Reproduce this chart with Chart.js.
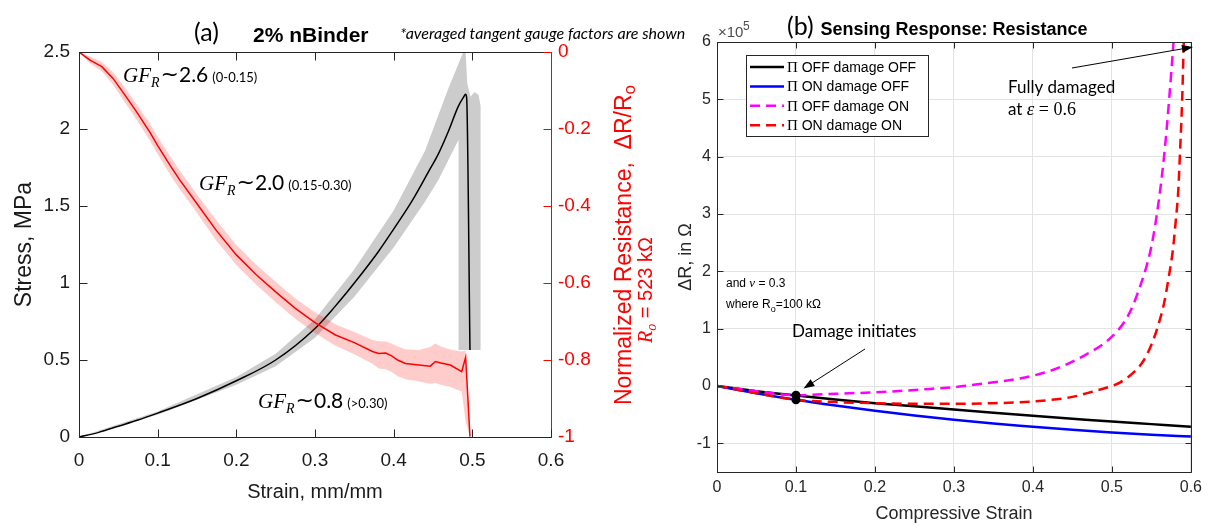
<!DOCTYPE html>
<html>
<head>
<meta charset="utf-8">
<script src="https://cdn.jsdelivr.net/npm/chart.js@4.4.1/dist/chart.umd.min.js"></script>
<style>
  html, body { margin: 0; padding: 0; background: #ffffff; }
  body { width: 1208px; height: 523px; position: relative; overflow: hidden; }
  #chartA { position: absolute; left: 0; top: 0; }
  #chartB { position: absolute; left: 660px; top: 0; }
</style>
</head>
<body>
<canvas id="chartA" width="700" height="523"></canvas>
<canvas id="chartB" width="548" height="523"></canvas>
<script>
// ---------- (a) 2% nBinder: stress and normalized resistance vs strain ----------
const aStrainTicks  = [0, 0.1, 0.2, 0.3, 0.4, 0.5, 0.6];
const aStrainLabels = ['0', '0.1', '0.2', '0.3', '0.4', '0.5', '0.6'];
const aStressTicks  = [0, 0.5, 1, 1.5, 2, 2.5];
const aStressLabels = ['0', '0.5', '1', '1.5', '2', '2.5'];
const aResTicks     = [-1, -0.8, -0.6, -0.4, -0.2, 0];
const aResLabels    = ['-1', '-0.8', '-0.6', '-0.4', '-0.2', '0'];

// mean stress curve (MPa)
const stressStrain = [0, 0.025, 0.05, 0.075, 0.1, 0.15, 0.2, 0.25, 0.3, 0.325, 0.35, 0.38, 0.4, 0.423, 0.444, 0.457, 0.47, 0.482, 0.4886, 0.4915, 0.4928, 0.497];
const stressMean   = [0, 0.03, 0.07, 0.11, 0.155, 0.25, 0.365, 0.5, 0.705, 0.845, 1.0, 1.2, 1.35, 1.53, 1.72, 1.84, 1.99, 2.145, 2.205, 2.225, 2.2, 0.565];

// scatter envelope of the stress curves: upper edge, then lower edge
const bandUpStrain = [0, 0.1, 0.2, 0.25, 0.3, 0.35, 0.4, 0.44, 0.47, 0.4885, 0.4915, 0.4935, 0.4975, 0.503, 0.508, 0.5105, 0.5105];
const bandUpStress = [0, 0.165, 0.39, 0.54, 0.765, 1.09, 1.47, 1.86, 2.27, 2.5, 2.5, 2.3, 2.21, 2.24, 2.22, 2.15, 0.565];
const bandLoStrain = [0, 0.1, 0.2, 0.25, 0.3, 0.35, 0.4, 0.44, 0.457, 0.4825, 0.482];
const bandLoStress = [0, 0.145, 0.34, 0.46, 0.645, 0.91, 1.23, 1.53, 1.67, 1.93, 0.565];

// normalized resistance change, mean and envelope
const resStrain = [0, 0.014, 0.029, 0.043, 0.056, 0.073, 0.09, 0.1, 0.115, 0.128, 0.15, 0.174, 0.2, 0.225, 0.25, 0.275, 0.3, 0.326, 0.35, 0.373, 0.381, 0.39, 0.398, 0.405, 0.415, 0.432, 0.4465, 0.453, 0.46, 0.472, 0.4865, 0.4915, 0.497];
const resMean   = [0, -0.021, -0.038, -0.068, -0.105, -0.155, -0.208, -0.243, -0.292, -0.332, -0.394, -0.462, -0.527, -0.578, -0.623, -0.666, -0.703, -0.735, -0.755, -0.778, -0.783, -0.782, -0.79, -0.80, -0.809, -0.813, -0.816, -0.804, -0.808, -0.813, -0.830, -0.793, -0.999];
const resUpper  = [0, -0.012, -0.026, -0.052, -0.086, -0.135, -0.186, -0.22, -0.268, -0.308, -0.37, -0.436, -0.501, -0.552, -0.597, -0.64, -0.676, -0.707, -0.727, -0.748, -0.751, -0.752, -0.758, -0.765, -0.772, -0.774, -0.766, -0.757, -0.765, -0.773, -0.778, -0.775, -0.985];
const resLower  = [0, -0.03, -0.05, -0.084, -0.124, -0.175, -0.23, -0.265, -0.316, -0.356, -0.418, -0.488, -0.553, -0.604, -0.65, -0.693, -0.73, -0.763, -0.785, -0.81, -0.822, -0.824, -0.832, -0.842, -0.85, -0.856, -0.862, -0.86, -0.864, -0.87, -0.882, -0.96, -1.0];

// ---------- (b) sensing response: resistance change (x10^5 ohm) ----------
const bStrainTicks  = [0, 0.1, 0.2, 0.3, 0.4, 0.5, 0.6];
const bStrainLabels = ['0', '0.1', '0.2', '0.3', '0.4', '0.5', '0.6'];
const bDeltaTicks   = [-1, 0, 1, 2, 3, 4, 5, 6];
const bDeltaLabels  = ['-1', '0', '1', '2', '3', '4', '5', '6'];

const baseStrain    = [0, 0.05, 0.1, 0.15, 0.2, 0.25, 0.3, 0.35, 0.4, 0.45, 0.5, 0.55, 0.6];
const offOffDelta   = [0, -0.09, -0.165, -0.235, -0.30, -0.355, -0.41, -0.465, -0.52, -0.57, -0.62, -0.665, -0.71];
const onOffDelta    = [0, -0.125, -0.24, -0.34, -0.43, -0.515, -0.59, -0.655, -0.71, -0.765, -0.81, -0.85, -0.88];
const offOnStrain   = [0, 0.05, 0.1, 0.15, 0.2, 0.25, 0.28, 0.3, 0.341, 0.383, 0.425, 0.466, 0.5, 0.521, 0.537, 0.549, 0.557, 0.566, 0.5725, 0.578, 0.58];
const offOnDelta    = [0, -0.09, -0.16, -0.135, -0.11, -0.07, -0.04, -0.02, 0.05, 0.13, 0.28, 0.54, 0.86, 1.24, 1.79, 2.37, 3.0, 4.0, 5.0, 6.0, 6.4];
const onOnStrain    = [0, 0.05, 0.1, 0.15, 0.2, 0.25, 0.3, 0.35, 0.4, 0.45, 0.475, 0.5, 0.51, 0.52, 0.53, 0.54, 0.55, 0.558, 0.566, 0.572, 0.577, 0.581, 0.584, 0.586, 0.589, 0.591, 0.592];
const onOnDelta     = [0, -0.125, -0.24, -0.28, -0.30, -0.31, -0.31, -0.30, -0.27, -0.19, -0.10, 0.0, 0.06, 0.15, 0.27, 0.44, 0.72, 1.03, 1.44, 1.9, 2.35, 2.9, 3.4, 4.0, 5.0, 6.0, 6.4];
const damageStrain  = [0.1, 0.1];
const damageDelta   = [-0.16, -0.24];

// ---------- fonts ----------
const SANS  = '"Liberation Sans", Arial, sans-serif';
const SERIF = '"Liberation Serif", "Times New Roman", serif';
const CAL   = 'Lato, "Open Sans", sans-serif';
const SYM   = '"DejaVu Sans", sans-serif';

const pts = (xs, ys) => xs.map((x, i) => ({ x: x, y: ys[i] }));

// draws a row of differently styled pieces of text; items: [text, font, dy, color]
function textRun(ctx, items, x, y, align) {
  let w = 0;
  for (const it of items) { ctx.font = it[1]; w += ctx.measureText(it[0]).width; }
  let cx = align === 'center' ? x - w / 2 : x;
  ctx.textAlign = 'left';
  ctx.textBaseline = 'alphabetic';
  for (const it of items) {
    ctx.font = it[1];
    if (it[3]) ctx.fillStyle = it[3];
    ctx.fillText(it[0], cx, y + (it[2] || 0));
    cx += ctx.measureText(it[0]).width;
  }
  return w;
}

function rotatedRun(ctx, items, x, y) {
  ctx.save();
  ctx.translate(x, y);
  ctx.rotate(-Math.PI / 2);
  textRun(ctx, items, 0, 0, 'center');
  ctx.restore();
}

function arrow(ctx, x1, y1, x2, y2) {
  const ang = Math.atan2(y2 - y1, x2 - x1);
  const len = 11, half = 4;
  ctx.save();
  ctx.strokeStyle = '#000';
  ctx.fillStyle = '#000';
  ctx.lineWidth = 1;
  ctx.beginPath();
  ctx.moveTo(x1, y1);
  ctx.lineTo(x2 - Math.cos(ang) * len * 0.8, y2 - Math.sin(ang) * len * 0.8);
  ctx.stroke();
  ctx.beginPath();
  ctx.moveTo(x2, y2);
  ctx.lineTo(x2 - Math.cos(ang) * len - Math.sin(ang) * half, y2 - Math.sin(ang) * len + Math.cos(ang) * half);
  ctx.lineTo(x2 - Math.cos(ang) * len + Math.sin(ang) * half, y2 - Math.sin(ang) * len - Math.cos(ang) * half);
  ctx.closePath();
  ctx.fill();
  ctx.restore();
}

// box lines with inward tick marks
const axesFrame = {
  id: 'axesFrame',
  afterDatasetsDraw(chart, args, opts) {
    const { ctx, chartArea: a } = chart;
    const edge = { left: a.left, right: a.right, top: a.top, bottom: a.bottom };
    ctx.save();
    ctx.lineWidth = 1;
    for (const side of ['top', 'right', 'left', 'bottom']) {
      const s = opts[side];
      if (!s) continue;
      ctx.strokeStyle = s.color;
      const e = Math.round(edge[side]) + 0.5;
      ctx.beginPath();
      if (side === 'left' || side === 'right') { ctx.moveTo(e, a.top); ctx.lineTo(e, a.bottom + 0.5); }
      else { ctx.moveTo(a.left, e); ctx.lineTo(a.right + 0.5, e); }
      const sc = chart.scales[s.scale];
      const dir = (side === 'left' || side === 'top') ? 1 : -1;
      for (const tk of sc.ticks) {
        const p = Math.round(sc.getPixelForValue(tk.value)) + 0.5;
        if (side === 'left' || side === 'right') { ctx.moveTo(e, p); ctx.lineTo(e + dir * opts.tickLen, p); }
        else { ctx.moveTo(p, e); ctx.lineTo(p, e + dir * opts.tickLen); }
      }
      ctx.stroke();
    }
    ctx.restore();
  }
};

// ---------- text of panel (a) ----------
function gaugeFactor(ctx, x, y, value, range) {
  let cx = x;
  cx += textRun(ctx, [['GF', 'italic 21px ' + SERIF, 0, '#000']], cx, y);
  cx += textRun(ctx, [['R', 'italic 14px ' + SERIF, 5, '#000']], cx, y) + 1;
  cx += textRun(ctx, [['~', '22px ' + SYM, -1, '#000']], cx, y);
  cx += textRun(ctx, [[value, '21px ' + CAL, 0, '#000']], cx, y) + 4;
  textRun(ctx, [[range, '13px ' + CAL, 0, '#000']], cx, y);
}

const textA = {
  id: 'textA',
  afterDraw(chart) {
    const ctx = chart.ctx;
    ctx.save();
    textRun(ctx, [['(a)', '25px ' + CAL, 0, '#000']], 194, 41);
    textRun(ctx, [['2% nBinder', 'bold 21px ' + SANS, 0, '#000']], 253, 42);
    textRun(ctx, [['*averaged tangent gauge factors are shown', 'italic 16px ' + CAL, 0, '#000']], 400, 39);

    gaugeFactor(ctx, 123, 82, '2.6', '(0-0.15)');
    gaugeFactor(ctx, 199, 190, '2.0', '(0.15-0.30)');
    gaugeFactor(ctx, 258, 408, '0.8', '(>0.30)');

    // axis titles
    rotatedRun(ctx, [['Stress, MPa', '23px ' + SANS, 0, '#1a1a1a']], 31, 244.5);
    textRun(ctx, [['Strain, mm/mm', '20px ' + SANS, 0, '#1a1a1a']], 315, 498, 'center');
    rotatedRun(ctx, [
      ['Normalized Resistance,  \u0394R/R', '23px ' + SANS, 0, '#ff0000'],
      ['o', '17px ' + SANS, 4, '#ff0000']
    ], 631, 245);
    rotatedRun(ctx, [
      ['R', 'italic 20px ' + SERIF, 0, '#ff0000'],
      ['o', 'italic 14px ' + SERIF, 4, '#ff0000'],
      [' = 523 k\u03A9', '20px ' + SANS, 0, '#ff0000']
    ], 652, 290);
    ctx.restore();
  }
};

// ---------- text, legend and callouts of panel (b) ----------
const textB = {
  id: 'textB',
  afterDraw(chart) {
    const ctx = chart.ctx;
    const a = chart.chartArea;
    ctx.save();
    textRun(ctx, [['(b)', '25px ' + CAL, 0, '#000']], 127, 35);
    textRun(ctx, [['Sensing Response: Resistance', 'bold 18px ' + SANS, 0, '#000']], (a.left + a.right) / 2, 35, 'center');
    textRun(ctx, [['\u00D710', '15px ' + SANS, 0, '#4d4d4d']], 58, 37);
    textRun(ctx, [['5', '12px ' + SANS, -7, '#4d4d4d']], 83, 37);

    rotatedRun(ctx, [['\u0394R, in \u03A9', '18px ' + SANS, 0, '#262626']], 31, (a.top + a.bottom) / 2);
    textRun(ctx, [['Compressive Strain', '18px ' + SANS, 0, '#262626']], (a.left + a.right) / 2, 519, 'center');

    // legend
    const lx = 86, ly = 55, lw = 182, lh = 81;
    ctx.fillStyle = '#ffffff';
    ctx.fillRect(lx, ly, lw, lh);
    ctx.strokeStyle = '#262626';
    ctx.lineWidth = 1;
    ctx.strokeRect(lx + 0.5, ly + 0.5, lw, lh);
    const ds = chart.data.datasets;
    for (let i = 0; i < 4; i++) {
      const d = ds[i];
      const yy = 67 + i * 19.4;
      ctx.save();
      ctx.strokeStyle = d.borderColor;
      ctx.lineWidth = d.borderWidth;
      ctx.setLineDash(d.borderDash || []);
      ctx.beginPath();
      ctx.moveTo(90, yy);
      ctx.lineTo(124, yy);
      ctx.stroke();
      ctx.restore();
      textRun(ctx, [
        ['\u03A0', '15px ' + SERIF, 0, '#000'],
        [' ' + d.label, '14px ' + SANS, 0, '#000']
      ], 127, yy + 5);
    }

    // callouts
    textRun(ctx, [['Fully damaged', '17px ' + CAL, 0, '#000']], 348, 93);
    let w = textRun(ctx, [['at ', '17px ' + CAL, 0, '#000']], 348, 115);
    textRun(ctx, [['\u03B5', 'italic 19px ' + SERIF, 0, '#000'], [' = 0.6', '18px ' + SERIF, 0, '#000']], 348 + w, 115);
    arrow(ctx, 412, 68, 533, 47);

    textRun(ctx, [['Damage initiates', '17px ' + CAL, 0, '#000']], 132, 337);
    arrow(ctx, 205, 349, 143.5, 388.5);

    w = textRun(ctx, [['and ', '12px ' + SANS, 0, '#000']], 66, 287);
    w += textRun(ctx, [['\u03BD', 'italic 13px ' + SERIF, 0, '#000']], 66 + w, 287);
    textRun(ctx, [[' = 0.3', '12px ' + SANS, 0, '#000']], 66 + w, 287);
    w = textRun(ctx, [['where R', '12px ' + SANS, 0, '#000']], 66, 308);
    w += textRun(ctx, [['o', '9px ' + SANS, 4, '#000']], 66 + w, 308);
    textRun(ctx, [['=100 k\u03A9', '12px ' + SANS, 0, '#000']], 66 + w, 308);
    ctx.restore();
  }
};

function fixedTicks(values) {
  return scale => { scale.ticks = values.map(v => ({ value: v })); };
}

// ---------- chart (a) ----------
new Chart(document.getElementById('chartA'), {
  type: 'line',
  data: {
    datasets: [
      {
        label: 'Normalized resistance',
        data: pts(resStrain, resMean),
        yAxisID: 'y2',
        borderColor: '#ff0000',
        borderWidth: 1.5,
        pointRadius: 0,
        fill: false,
        order: 0
      },
      {
        label: 'Resistance envelope',
        data: pts(resStrain, resUpper).concat(pts(resStrain, resLower).reverse()),
        yAxisID: 'y2',
        borderColor: 'rgba(0,0,0,0)',
        borderWidth: 0,
        backgroundColor: 'rgba(255,0,0,0.2)',
        fill: 'shape',
        pointRadius: 0,
        order: 1
      },
      {
        label: 'Stress',
        data: pts(stressStrain, stressMean),
        yAxisID: 'y',
        borderColor: '#000000',
        borderWidth: 1.5,
        pointRadius: 0,
        fill: false,
        cubicInterpolationMode: 'monotone',
        order: 2
      },
      {
        label: 'Stress envelope',
        data: pts(bandUpStrain, bandUpStress).concat(pts(bandLoStrain, bandLoStress).reverse()),
        yAxisID: 'y',
        borderColor: 'rgba(0,0,0,0)',
        borderWidth: 0,
        backgroundColor: 'rgb(204,204,204)',
        fill: 'shape',
        pointRadius: 0,
        order: 3
      }
    ]
  },
  options: {
    responsive: false,
    animation: false,
    events: [],
    layout: { padding: { top: 52, left: 0, right: 0, bottom: 0 } },
    scales: {
      x: {
        type: 'linear', min: 0, max: 0.6,
        afterBuildTicks: fixedTicks(aStrainTicks),
        afterFit: s => { s.height = 86; },
        grid: { display: false, drawTicks: false },
        border: { display: false },
        ticks: { callback: (v, i) => aStrainLabels[i], color: '#1a1a1a', font: { family: SANS, size: 19 }, padding: 12, maxRotation: 0, autoSkip: false }
      },
      y: {
        type: 'linear', position: 'left', min: 0, max: 2.5,
        afterBuildTicks: fixedTicks(aStressTicks),
        afterFit: s => { s.width = 79; },
        grid: { display: false, drawTicks: false },
        border: { display: false },
        ticks: { callback: (v, i) => aStressLabels[i], color: '#1a1a1a', font: { family: SANS, size: 19 }, padding: 9, autoSkip: false }
      },
      y2: {
        type: 'linear', position: 'right', min: -1, max: 0,
        afterBuildTicks: fixedTicks(aResTicks),
        afterFit: s => { s.width = 149; },
        grid: { display: false, drawTicks: false },
        border: { display: false },
        ticks: { callback: (v, i) => aResLabels[i], color: '#ff0000', font: { family: SANS, size: 19 }, padding: 7, autoSkip: false }
      }
    },
    plugins: {
      legend: { display: false },
      tooltip: { enabled: false },
      axesFrame: {
        tickLen: 8,
        top: { color: '#262626', scale: 'x' },
        bottom: { color: '#262626', scale: 'x' },
        left: { color: '#262626', scale: 'y' },
        right: { color: '#ff0000', scale: 'y2' }
      }
    }
  },
  plugins: [axesFrame, textA]
});

// ---------- chart (b) ----------
new Chart(document.getElementById('chartB'), {
  type: 'line',
  data: {
    datasets: [
      {
        label: 'OFF damage OFF',
        data: pts(baseStrain, offOffDelta),
        borderColor: '#000000', borderWidth: 2.5, pointRadius: 0,
        cubicInterpolationMode: 'monotone', clip: 0, order: 4
      },
      {
        label: 'ON damage OFF',
        data: pts(baseStrain, onOffDelta),
        borderColor: '#0000ff', borderWidth: 2.5, pointRadius: 0,
        cubicInterpolationMode: 'monotone', clip: 0, order: 3
      },
      {
        label: 'OFF damage ON',
        data: pts(offOnStrain, offOnDelta),
        borderColor: '#ff00ff', borderWidth: 2.5, borderDash: [10, 6], pointRadius: 0,
        cubicInterpolationMode: 'monotone', clip: 0, order: 2
      },
      {
        label: 'ON damage ON',
        data: pts(onOnStrain, onOnDelta),
        borderColor: '#ff0000', borderWidth: 2.5, borderDash: [10, 6], pointRadius: 0,
        cubicInterpolationMode: 'monotone', clip: 0, order: 1
      },
      {
        label: 'Damage initiation',
        data: pts(damageStrain, damageDelta),
        showLine: false,
        pointRadius: 4.5,
        pointBackgroundColor: '#000000',
        pointBorderColor: '#000000',
        pointBorderWidth: 0,
        order: 0
      }
    ]
  },
  options: {
    responsive: false,
    animation: false,
    events: [],
    layout: { padding: { top: 42, left: 0, right: 11, bottom: 0 } },
    scales: {
      x: {
        type: 'linear', min: 0, max: 0.6,
        afterBuildTicks: fixedTicks(bStrainTicks),
        afterFit: s => { s.height = 51; },
        grid: { color: '#e3e3e3', lineWidth: 1, drawTicks: false },
        border: { display: false },
        ticks: { callback: (v, i) => bStrainLabels[i], color: '#262626', font: { family: SANS, size: 16 }, padding: 6, maxRotation: 0, autoSkip: false }
      },
      y: {
        type: 'linear', min: -1.5, max: 6,
        afterBuildTicks: fixedTicks(bDeltaTicks),
        afterFit: s => { s.width = 57; },
        grid: { color: '#e3e3e3', lineWidth: 1, drawTicks: false },
        border: { display: false },
        ticks: { callback: (v, i) => bDeltaLabels[i], color: '#262626', font: { family: SANS, size: 16 }, padding: 6, autoSkip: false }
      }
    },
    plugins: {
      legend: { display: false },
      tooltip: { enabled: false },
      axesFrame: {
        tickLen: 6,
        top: { color: '#262626', scale: 'x' },
        bottom: { color: '#262626', scale: 'x' },
        left: { color: '#262626', scale: 'y' },
        right: { color: '#262626', scale: 'y' }
      }
    }
  },
  plugins: [axesFrame, textB]
});
</script>
</body>
</html>
